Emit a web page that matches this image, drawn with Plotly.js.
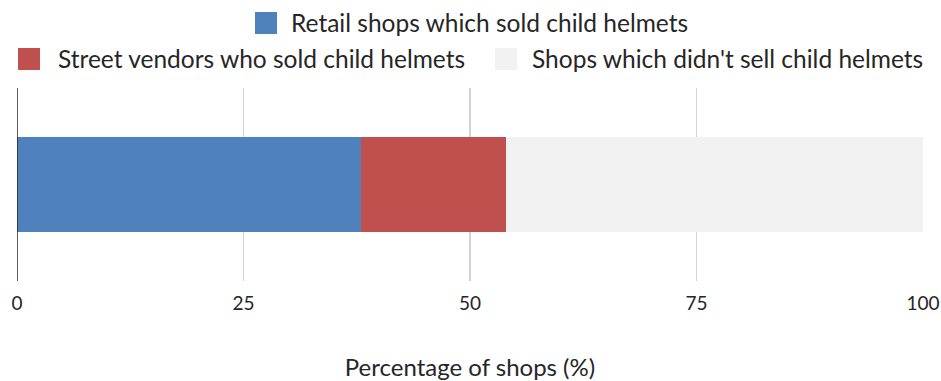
<!DOCTYPE html>
<html>
<head>
<meta charset="utf-8">
<script src="https://cdn.plot.ly/plotly-3.0.1.min.js"></script>
<style>html,body{margin:0;padding:0;background:#fff;}#chart{width:941px;height:381px;}</style>
</head>
<body>
<div id="chart"></div>
<script>
const category = [''];
const seriesNames = ['Retail shops which sold child helmets', 'Street vendors who sold child helmets', "Shops which didn't sell child helmets"];
const retailValues = [38];
const streetValues = [16];
const noSellValues = [46];
const xTicks = [0, 25, 50, 75, 100];
const colors = ['#4f81bd', '#c0504d', '#f2f2f2'];

const FONT = 'Lato, Carlito, "Open Sans", sans-serif';
const TXT = '#262626';

const W = 941, H = 381;
const M = {l: 17, r: 18, t: 88, b: 100};
const PW = W - M.l - M.r, PH = H - M.t - M.b;
// pixel -> paper helpers for legend placement
const px = v => (v - M.l) / PW;
const py = v => (H - M.b - v) / PH;

// manual legend entries: [symbol left px, symbol top px, text center px, row center px]
const legendPos = [
  {sx: 255, sy: 12, tx: 489, ty: 23},
  {sx: 18,  sy: 48, tx: 261, ty: 59},
  {sx: 495, sy: 48, tx: 727, ty: 59}
];

const traces = [
  {type: 'bar', orientation: 'h', name: seriesNames[0], x: retailValues, y: category, marker: {color: colors[0]}, showlegend: false, hoverinfo: 'x+name'},
  {type: 'bar', orientation: 'h', name: seriesNames[1], x: streetValues, y: category, marker: {color: colors[1]}, showlegend: false, hoverinfo: 'x+name'},
  {type: 'bar', orientation: 'h', name: seriesNames[2], x: noSellValues, y: category, marker: {color: colors[2]}, showlegend: false, hoverinfo: 'x+name'}
];

const shapes = [
  {type: 'line', xref: 'x', yref: 'paper', x0: 0, x1: 0, y0: 0, y1: 1, line: {color: '#262626', width: 1.5}, layer: 'above'}
];
const annotations = [];
legendPos.forEach((p, i) => {
  shapes.push({type: 'rect', xref: 'paper', yref: 'paper',
    x0: px(p.sx), x1: px(p.sx + 22), y0: py(p.sy + 22), y1: py(p.sy),
    fillcolor: colors[i], line: {width: 0}});
  annotations.push({xref: 'paper', yref: 'paper', x: px(p.tx), y: py(p.ty),
    xanchor: 'center', yanchor: 'middle', showarrow: false, text: seriesNames[i],
    font: {family: FONT, size: 24.5, color: TXT}});
});

const layout = {
  width: W, height: H,
  margin: M,
  paper_bgcolor: '#fff', plot_bgcolor: '#fff',
  font: {family: FONT, size: 20, color: TXT},
  barmode: 'stack',
  bargap: 0.51,
  showlegend: false,
  xaxis: {
    range: [0, 100], tickvals: xTicks, ticktext: xTicks.map(String),
    showgrid: true, gridcolor: '#d3d3d3', gridwidth: 1.5,
    zeroline: false, showline: false, ticks: '',
    ticklabelstandoff: 9,
    tickfont: {family: FONT, size: 19, color: TXT},
    title: {text: 'Percentage of shops (%)', font: {family: FONT, size: 24, color: TXT}, standoff: 46},
    automargin: false,
    fixedrange: true
  },
  yaxis: {showgrid: false, zeroline: false, showticklabels: false, showline: false, ticks: '', fixedrange: true, automargin: false},
  shapes: shapes,
  annotations: annotations
};

Plotly.newPlot('chart', traces, layout, {displayModeBar: false, staticPlot: true});
</script>
</body>
</html>
